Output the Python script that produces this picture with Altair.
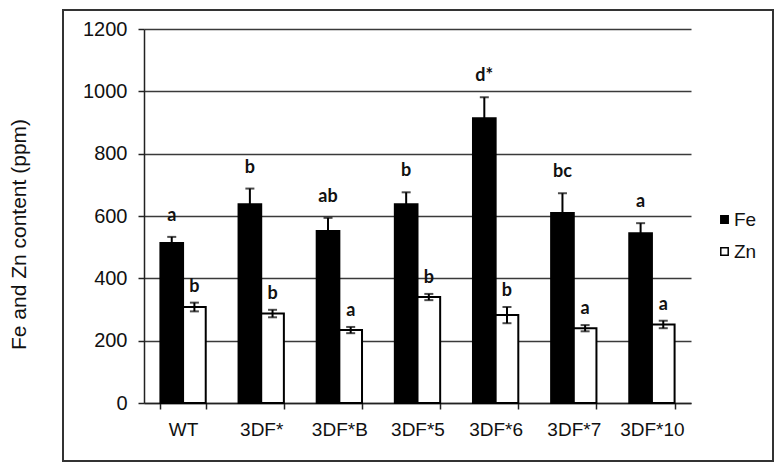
import altair as alt
import pandas as pd

categories = ["WT", "3DF*", "3DF*B", "3DF*5", "3DF*6", "3DF*7", "3DF*10"]
elements = ["Fe", "Zn"]
fe_mean = [513, 638, 552, 638, 914, 610, 545]
fe_err = [20, 50, 42, 38, 67, 63, 32]
zn_mean = [308, 287, 234, 340, 282, 240, 252]
zn_err = [14, 12, 10, 10, 26, 10, 12]
fe_letters = ["a", "b", "ab", "b", "d*", "bc", "a"]
zn_letters = ["b", "b", "a", "b", "b", "a", "a"]
y_ticks = [0, 200, 400, 600, 800, 1000, 1200]

rows = []
for i, c in enumerate(categories):
    rows.append(dict(line=c, element="Fe", mean=fe_mean[i], err=fe_err[i], letter=fe_letters[i]))
    rows.append(dict(line=c, element="Zn", mean=zn_mean[i], err=zn_err[i], letter=zn_letters[i]))
df = pd.DataFrame(rows)

FONT = "Liberation Sans"
DARK = "#222222"
TXT = "#111111"

x_enc = alt.X(
    "line:N", sort=categories, title=None,
    scale=alt.Scale(paddingInner=0.42, paddingOuter=0.21),
    axis=alt.Axis(labelAngle=0, labelFont=FONT, labelFontSize=19, labelColor=TXT,
                  labelPadding=11, tickBand="extent", tickSize=6, tickColor=DARK,
                  tickWidth=1.5, domainColor=DARK, domainWidth=1.5, grid=False),
)
xoff_enc = alt.XOffset("element:N", sort=elements, scale=alt.Scale(paddingInner=0, paddingOuter=0))

base = alt.Chart(df).encode(x=x_enc, xOffset=xoff_enc).transform_calculate(
    lo="datum.mean - datum.err", hi="datum.mean + datum.err"
)

y_scale = alt.Scale(domain=[0, 1200], nice=False)

bars = base.mark_bar(stroke="black", strokeWidth=2).encode(
    y=alt.Y("mean:Q", scale=y_scale,
            axis=alt.Axis(values=y_ticks, format="d", title="Fe and Zn content (ppm)", titleFont=FONT,
                          titleFontSize=21, titleFontWeight="normal", titleColor=TXT,
                          titleX=-119, titleY=205, titleAngle=-90, titleAlign="center",
                          titleBaseline="alphabetic",
                          labelFont=FONT, labelFontSize=20, labelColor=TXT, labelPadding=11,
                          tickSize=6, tickColor=DARK, tickWidth=1.5,
                          domainColor=DARK, domainWidth=1.5,
                          grid=True, gridColor="#3a3a3a", gridWidth=1.5)),
    color=alt.Color("element:N", scale=alt.Scale(domain=elements, range=["black", "white"]),
                    legend=alt.Legend(title=None, orient="none", legendX=566, legendY=181,
                                      symbolType="square", symbolSize=55, labelFontSize=19,
                                      labelFont=FONT, labelColor=TXT, rowPadding=12,
                                      symbolStrokeColor="black", symbolStrokeWidth=1.5,
                                      symbolOffset=5, labelOffset=0)),
)

rules = base.mark_rule(color="black", strokeWidth=2).encode(
    y=alt.Y("lo:Q", scale=y_scale), y2="hi:Q"
)
cap_hi = base.mark_tick(color="black", thickness=2, size=9).encode(y=alt.Y("hi:Q", scale=y_scale))
cap_lo = base.mark_tick(color="black", thickness=2, size=9).encode(y=alt.Y("lo:Q", scale=y_scale))

fe_text = base.transform_filter("datum.element == 'Fe'").mark_text(
    font="Lato", fontWeight="bold", fontSize=18, baseline="alphabetic", dy=-16, color=TXT
).encode(y=alt.Y("hi:Q", scale=y_scale), text="letter:N")
zn_text = base.transform_filter("datum.element == 'Zn'").mark_text(
    font="Lato", fontWeight="bold", fontSize=18, baseline="alphabetic", dy=-11, color=TXT
).encode(y=alt.Y("hi:Q", scale=y_scale), text="letter:N")

border = alt.Chart(pd.DataFrame({"k": [0]})).mark_rect(
    fillOpacity=0, stroke="#333333", strokeWidth=2
).encode(x=alt.value(-81), x2=alt.value(629), y=alt.value(-19), y2=alt.value(432))

chart = alt.layer(bars, rules, cap_hi, cap_lo, fe_text, zn_text, border).properties(
    width=547, height=374,
    padding={"left": 136, "top": 21, "right": 85, "bottom": 61},
    autosize=alt.AutoSizeParams(type="none"),
    background="white",
).configure_view(stroke=None)

chart.save("out.html", embed_options={"renderer": "svg", "actions": False})
